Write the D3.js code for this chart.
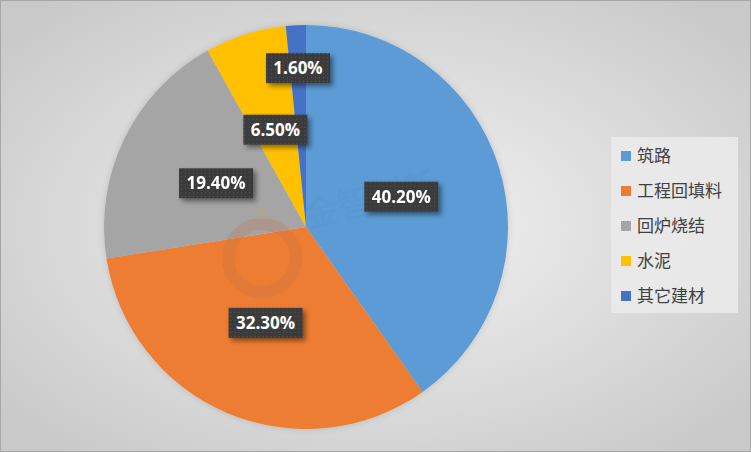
<!DOCTYPE html>
<html><head><meta charset="utf-8">
<script src="https://cdn.jsdelivr.net/npm/d3@7"></script>
<style>html,body{margin:0;padding:0;background:#fff;}svg{display:block;}</style>
</head><body>
<script>
const categories = ["筑路", "工程回填料", "回炉烧结", "水泥", "其它建材"];
const values = [40.2, 32.3, 19.4, 6.5, 1.6];
const labels = ["40.20%", "32.30%", "19.40%", "6.50%", "1.60%"];
const colors = ["#5B9BD5", "#ED7D31", "#A5A5A5", "#FFC000", "#4472C4"];

const W = 751, H = 452;
const svg = d3.select("body").append("svg").attr("width", W).attr("height", H);
const defs = svg.append("defs");

const bg = defs.append("radialGradient").attr("id", "bg")
  .attr("cx", "50%").attr("cy", "50%").attr("r", "65%");
bg.append("stop").attr("offset", "0%").attr("stop-color", "#f4f4f4");
bg.append("stop").attr("offset", "100%").attr("stop-color", "#c9c9c9");

const pat = defs.append("pattern").attr("id", "dots").attr("patternUnits", "userSpaceOnUse")
  .attr("width", 4).attr("height", 4);
pat.append("rect").attr("width", 4).attr("height", 4).attr("fill", "#3a3a3a");
pat.append("rect").attr("x", 1).attr("y", 1).attr("width", 1).attr("height", 1).attr("fill", "#5a5a5a");

const sh = defs.append("filter").attr("id", "shadow").attr("x", "-20%").attr("y", "-30%").attr("width", "150%").attr("height", "180%");
sh.append("feDropShadow").attr("dx", 3).attr("dy", 3).attr("stdDeviation", 2.5).attr("flood-color", "#000").attr("flood-opacity", 0.45);

const psh = defs.append("filter").attr("id", "pshadow").attr("x", "-10%").attr("y", "-10%").attr("width", "120%").attr("height", "120%");
psh.append("feDropShadow").attr("dx", 0).attr("dy", 0).attr("stdDeviation", 3).attr("flood-color", "#000").attr("flood-opacity", 0.15);

svg.append("rect").attr("x", 0.5).attr("y", 0.5).attr("width", W - 1).attr("height", H - 1)
  .attr("fill", "url(#bg)").attr("stroke", "#a6a6a6").attr("stroke-width", 1);

const cx = 306, cy = 227, R = 202;
const pie = d3.pie().value(d => d).sort(null);
const arcs = pie(values);
const arc = d3.arc().innerRadius(0).outerRadius(R);

const g = svg.append("g").attr("transform", `translate(${cx},${cy})`);
g.append("g").attr("filter", "url(#pshadow)").selectAll("path").data(arcs).join("path")
  .attr("d", arc).attr("fill", (d, i) => colors[i]);

// faint watermark
const wm = svg.append("g").attr("opacity", 0.28);
wm.append("text").attr("x", 308).attr("y", 228).attr("font-family", "Noto Sans CJK SC")
  .attr("font-size", 34).attr("fill", "#5b8fc9").attr("transform", "rotate(-14,308,228)")
  .text("金智创新");
wm.append("circle").attr("cx", 262).attr("cy", 258).attr("r", 34).attr("fill", "none")
  .attr("stroke", "#c0704a").attr("stroke-width", 12);
wm.append("circle").attr("cx", 262).attr("cy", 213).attr("r", 6).attr("fill", "#c0a070");

const labelR = [100, 104, 100, 102, 159];
const lg = svg.append("g").attr("transform", `translate(${cx},${cy})`);
arcs.forEach((d, i) => {
  const a = d3.arc().innerRadius(labelR[i]).outerRadius(labelR[i]);
  const [x, y] = a.centroid(d);
  const w = labels[i].length === 6 ? 74 : 64, h = 30;
  const gg = lg.append("g").attr("transform", `translate(${x},${y})`);
  gg.append("rect").attr("x", -w / 2).attr("y", -h / 2).attr("width", w).attr("height", h)
    .attr("fill", "url(#dots)").attr("filter", "url(#shadow)");
  gg.append("text").attr("text-anchor", "middle").attr("dy", "0.36em")
    .attr("font-family", "Open Sans, Liberation Sans, sans-serif").attr("font-weight", "bold")
    .attr("font-size", 17).attr("fill", "#fff").text(labels[i]);
});

// legend
const leg = svg.append("g");
leg.append("rect").attr("x", 611).attr("y", 137).attr("width", 127).attr("height", 176)
  .attr("fill", "#ebebeb").attr("opacity", 0.85);
categories.forEach((c, i) => {
  const y = 156 + i * 35;
  leg.append("rect").attr("x", 621).attr("y", y - 5).attr("width", 10).attr("height", 10).attr("fill", colors[i]);
  leg.append("text").attr("x", 637).attr("y", y).attr("dy", "0.36em")
    .attr("font-family", "Noto Sans CJK SC").attr("font-size", 17).attr("fill", "#404040").text(c);
});
</script>
</body></html>
